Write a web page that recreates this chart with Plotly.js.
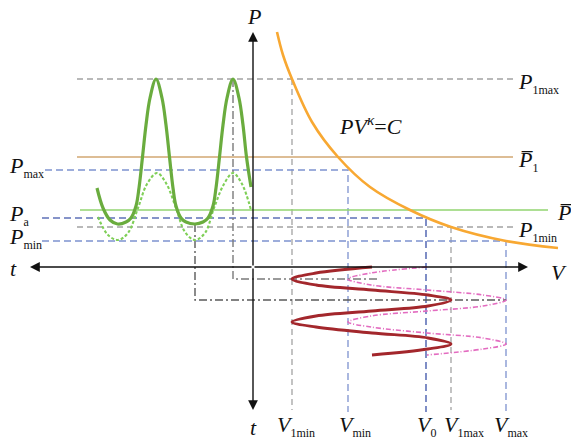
<!DOCTYPE html>
<html><head><meta charset="utf-8">
<script src="https://cdn.plot.ly/plotly-3.0.1.min.js"></script>
<style>html,body{margin:0;padding:0;background:#fff}</style>
</head><body><div id="chart" style="width:571px;height:440px"></div>
<script>
// ---- data (schematic units: V to the right, P up, t to the left / down) ----
const levelNames  = ['P1max', 'P̄1', 'Pmax', 'P̄', 'Pa', 'P1min', 'Pmin'];
const levelValues = [188, 110, 97, 57, 49, 40, 26];
const volNames  = ['V1min', 'Vmin', 'V0', 'V1max', 'Vmax'];
const volValues = [39, 95, 173, 198, 253];

// isentropic curve PV^k = C
const isoV = [24, 30, 39, 59, 85, 117, 157, 198, 253, 305];
const isoP = [235, 212, 188, 145, 110, 80, 57, 40, 26, 19];

// pressure pulsation vs time (t to the left, negative)
const pulseT = [-156,-150,-143,-135.5,-127,-122,-117,-114,-110.5,-107,-103,-97,-91,-87,-83.5,-80,-77,-72,-67,-58,-50,-45,-40,-37,-33.5,-30,-26,-20,-14,-10,-6.5,-2];
const pulseP = [79,59,47,43,45,49,61,79,110,142,169,188,169,142,110,79,61,49,45,43,45,49,61,79,110,142,169,188,169,142,110,80];
const pulse2T = [-155,-145,-135,-125,-115,-106,-96,-87,-77,-68,-58,-48,-39,-29,-20,-11,-2];
const pulse2P = [50,32,27,34,59,83,94,84,59,35,27,34,59,83,94,83,57];

// volume oscillation vs time (t downwards, negative)
const volT  = [0,-6,-12,-18,-23,-28,-33,-39,-44,-49,-55,-60,-66,-71,-77,-82,-88];
const vol1V = [119,63,39,63,119,175,198,175,119,63,39,63,119,175,198,175,119];
const vol2V = [174,118,95,118,174,230,253,230,174,118,95,118,174,230,253,230,174];

// ---- build ----
const L = n => levelValues[levelNames.indexOf(n)];
const V = n => volValues[volNames.indexOf(n)];
const bottom = -143, left = -176;
const traces = [];
function line(x, y, color, width, dash, shape) {
  traces.push({x, y, mode:'lines', type:'scatter', hoverinfo:'skip',
    line:{color, width, dash: dash || 'solid', shape: shape || 'linear'}});
}
const grayDash = '6px,4px', blueDash = '7px,4px';
// gray dashed guides
line([left, 260], [L('P1max'), L('P1max')], '#a3a3a3', 1.3, grayDash);
line([left, 260], [L('P1min'), L('P1min')], '#a3a3a3', 1.3, grayDash);
line([V('V1min'), V('V1min')], [L('P1max'), bottom], '#a3a3a3', 1.3, grayDash);
line([V('V1max'), V('V1max')], [L('P1min'), bottom], '#a3a3a3', 1.3, grayDash);
// blue dashed guides
line([-208, V('Vmin'), V('Vmin')], [L('Pmax'), L('Pmax'), bottom-2], '#7d92cf', 1.3, blueDash);
line([-211, V('V0'), V('V0')], [L('Pa'), L('Pa'), bottom-2], '#5f72b8', 1.6, blueDash);
line([-211, V('Vmax'), V('Vmax')], [L('Pmin'), L('Pmin'), bottom-2], '#7d92cf', 1.3, blueDash);
// mean pressure lines
line([left, 260], [L('P̄1'), L('P̄1')], '#d2a772', 1.6);
line([-173, 295], [L('P̄'), L('P̄')], '#92d470', 1.4);
// dash-dot projection lines
line([-58, -58, 253], [43, -33, -33], '#5a5a5a', 1.4, '8px,3px,2px,3px');
line([-20, -20, 124], [188, -12, -12], '#7a7a7a', 1.4, '8px,3px,2px,3px');
// curves
line(isoV, isoP, '#f8a832', 2.6, null, 'spline');
line(pulse2T, pulse2P, '#7fcf57', 2.1, '3px,2px', 'spline');
line(pulseT, pulseP, '#6aac3e', 3.2, null, 'spline');
line(vol2V, volT, '#e36cc0', 1.6, '5px,2px,1px,2px', 'spline');
line(vol1V, volT, '#a3272c', 2.8, null, 'spline');

const F = '"Liberation Serif", "Times New Roman", serif';
function lab(x, y, text, size, xanchor) {
  return {x, y, xref:'x', yref:'y', text, showarrow:false, xanchor: xanchor||'left', yanchor:'middle',
    font:{family:F, size: size||22, color:'#111'}};
}
function sub(s) { return '<sub><span style="font-size:12px">' + s + '</span></sub>'; }
function arrow(x, y) {
  return {x, y, ax:0, ay:0, xref:'x', yref:'y', axref:'x', ayref:'y', text:'', showarrow:true,
    arrowhead:2, arrowsize:1.4, arrowwidth:1.4, arrowcolor:'#111'};
}
const annotations = [
  arrow(0, 235), arrow(0, -143), arrow(-223, 0), arrow(275, 0),
  lab(0.5, 251, '<i>P</i>', 22, 'center'),
  lab(-240, -1, '<i>t</i>', 22, 'center'),
  lab(306, -5, '<i>V</i>', 22, 'center'),
  lab(0, -160, '<i>t</i>', 22, 'center'),
  lab(-246, 100, '<i>P</i>' + sub('max')),
  lab(-246, 52, '<i>P</i>' + sub('a')),
  lab(-246, 29, '<i>P</i>' + sub('min')),
  lab(263, 184, '<i>P</i>' + sub('1max')),
  lab(263, 106, '<i>P\u0305</i>' + sub('1')),
  lab(302, 55, '<i>P\u0305</i>'),
  lab(263, 36, '<i>P</i>' + sub('1min')),
  lab(84, 142, '<i>PV</i><sup><i>κ</i></sup>=<i>C</i>', 22),
  lab(22, -159, '<i>V</i>' + sub('1min')),
  lab(84, -159, '<i>V</i>' + sub('min')),
  lab(162, -159, '<i>V</i>' + sub('0')),
  lab(189, -159, '<i>V</i>' + sub('1max')),
  lab(239, -159, '<i>V</i>' + sub('max')),
];

const layout = {
  width:571, height:440, margin:{l:0,r:0,t:0,b:0},
  paper_bgcolor:'#fff', plot_bgcolor:'#fff', showlegend:false, hovermode:false,
  xaxis:{range:[-253, 318], visible:false, fixedrange:true},
  yaxis:{range:[-173, 267], visible:false, fixedrange:true},
  annotations
};
Plotly.newPlot('chart', traces, layout, {staticPlot:true, displayModeBar:false});
</script></body></html>
